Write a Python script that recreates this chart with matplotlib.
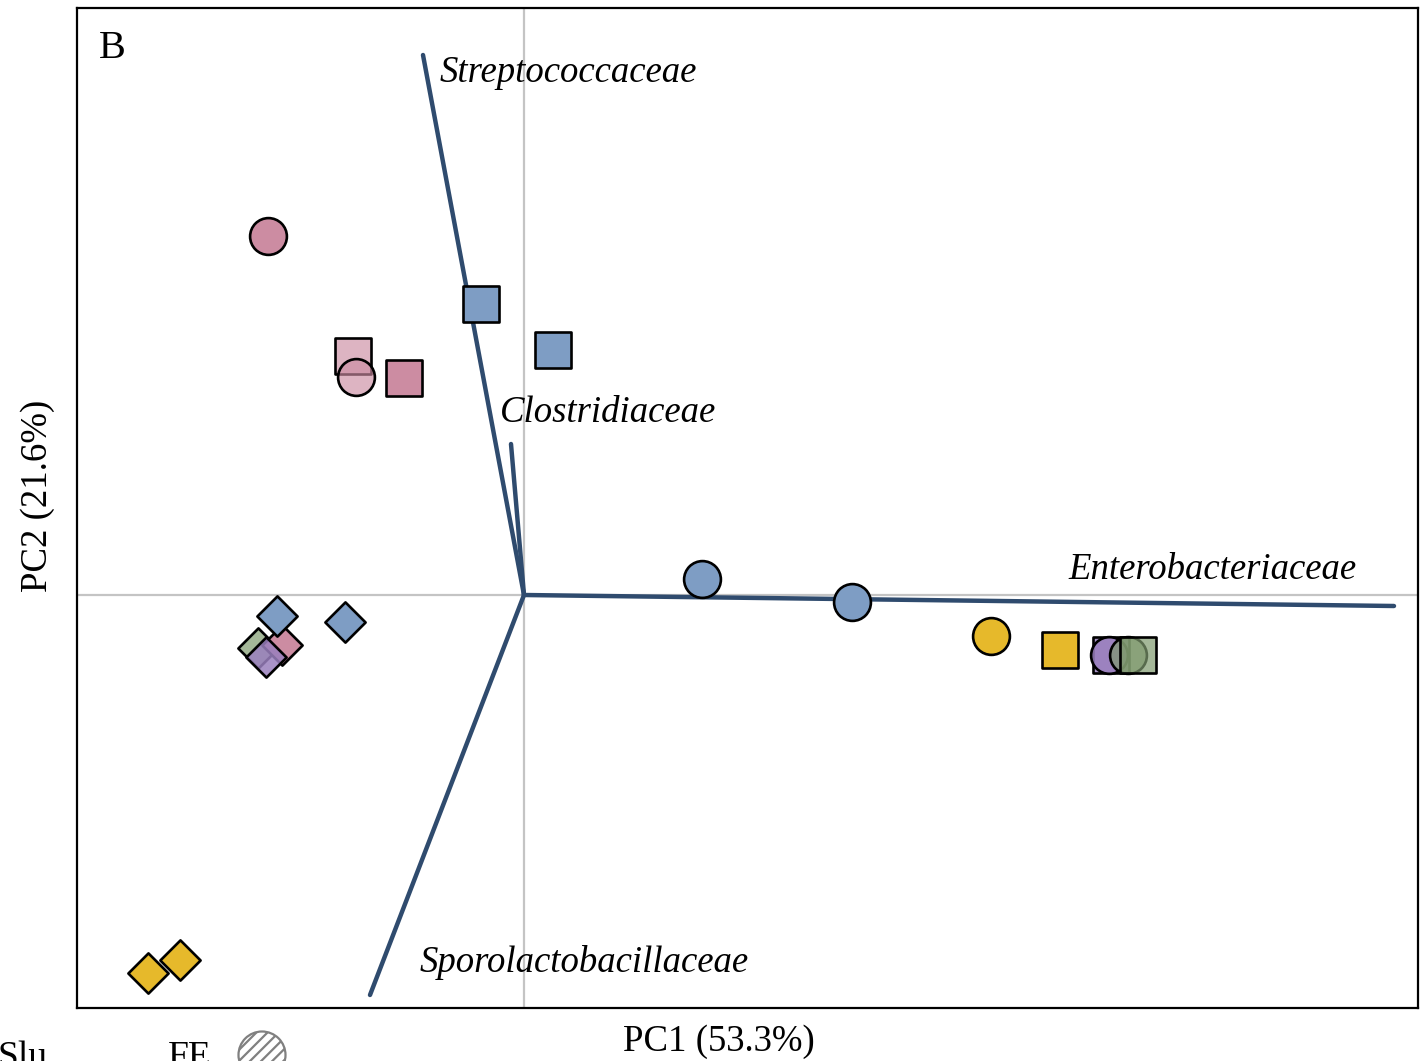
import matplotlib.pyplot as plt
from matplotlib.colors import to_rgb
from matplotlib.patches import Circle

plt.rcParams['font.family'] = ['Liberation Serif', 'DejaVu Serif']
plt.rcParams['hatch.color'] = '#808080'
plt.rcParams['hatch.linewidth'] = 1.6

# sample scores (PC1, PC2)
pc1 = [-2.56, -1.71, -1.68, -1.20, -0.43, 0.29, 1.78, 3.28, 4.67, 5.36,
       5.87, 5.85, 6.04, 6.14,
       -2.66, -2.42, -2.47, -1.79, -2.58, -3.76, -3.44]
pc2 = [3.59, 2.39, 2.18, 2.17, 2.91, 2.45, 0.16, -0.07, -0.41, -0.55,
       -0.60, -0.60, -0.60, -0.60,
       -0.53, -0.50, -0.21, -0.27, -0.62, -3.78, -3.65]
shape = ['o', 's', 'o', 's', 's', 's', 'o', 'o', 'o', 's',
         's', 'o', 'o', 's',
         'D', 'D', 'D', 'D', 'D', 'D', 'D']
group = ['pink', 'lightpink', 'lightpink', 'pink', 'blue', 'blue', 'blue', 'blue', 'yellow', 'yellow',
         'purple', 'purple', 'green', 'green',
         'green', 'pink', 'blue', 'blue', 'purple', 'yellow', 'yellow']

colours = {
    'pink': ('#CC8CA2', 1.0),
    'lightpink': ('#CC8CA2', 0.65),
    'blue': ('#7E9DC4', 1.0),
    'yellow': ('#E6B92B', 1.0),
    'purple': ('#9A80BE', 0.85),
    'green': ('#7F9A6E', 0.7),
}
sizes = {'o': 26.5, 's': 26.0, 'D': 20.5}

# family loadings
families = ['Streptococcaceae', 'Clostridiaceae', 'Enterobacteriaceae', 'Sporolactobacillaceae']
load1 = [-1.01, -0.13, 8.70, -1.54]
load2 = [5.40, 1.51, -0.11, -4.00]
label_xy = [(-0.84, 5.22), (-0.24, 1.82), (5.44, 0.25), (-1.04, -3.68)]

fig = plt.figure(figsize=(14.2, 10.61), dpi=100)
ax = fig.add_axes([77 / 1420, 1 - 1008 / 1061, 1341 / 1420, 1000 / 1061])
ax.set_xlim(-4.47, 8.94)
ax.set_ylim(-4.13, 5.87)
ax.set_xticks([])
ax.set_yticks([])
for s in ax.spines.values():
    s.set_linewidth(1.6)

ax.axhline(0, color='#C4C4C4', lw=1.6, zorder=1)
ax.axvline(0, color='#C4C4C4', lw=1.6, zorder=1)

for name, x, y, (tx, ty) in zip(families, load1, load2, label_xy):
    ax.plot([0, x], [0, y], color='#2F4B6E', lw=3.2, solid_capstyle='round', zorder=2)
    ax.text(tx, ty, name, style='italic', fontsize=26.5, ha='left', va='center', zorder=5)

for x, y, m, g in zip(pc1, pc2, shape, group):
    c, a = colours[g]
    ax.scatter([x], [y], marker=m, s=sizes[m] ** 2, facecolor=(*to_rgb(c), a),
               edgecolor='black', linewidths=1.9, zorder=3)

ax.text(0.016, 0.96, 'B', transform=ax.transAxes, fontsize=29, ha='left', va='center')

fig.text(719 / 1420, 1 - 1042 / 1061, 'PC1 (53.3%)', fontsize=26.5, ha='center', va='center')
fig.text(38 / 1420, 1 - 496 / 1061, 'PC2 (21.6%)', fontsize=26.5, ha='center', va='center',
         rotation=90)

# legend strip along the bottom edge
leg = fig.add_axes([0, 0, 1, 1])
leg.set_xlim(0, 1420)
leg.set_ylim(1061, 0)
leg.axis('off')
leg.text(-2, 1067, 'Slu', fontsize=27, ha='left', va='baseline')
leg.text(168, 1067, 'FE', fontsize=27, ha='left', va='baseline')
leg.add_patch(Circle((262, 1055), 23.5, facecolor='white', edgecolor='#808080',
                     lw=1.6, hatch='///'))

fig.savefig('out.png', dpi=100)
